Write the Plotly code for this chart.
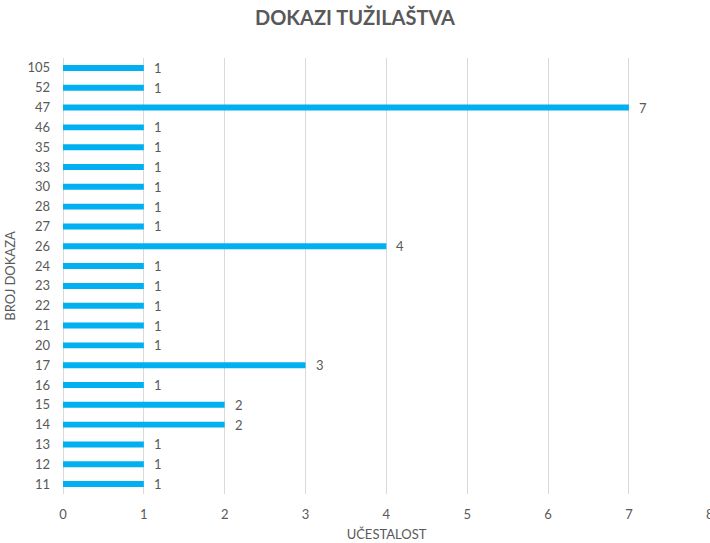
import plotly.graph_objects as go

categories = ["11", "12", "13", "14", "15", "16", "17", "20", "21", "22", "23", "24",
              "26", "27", "28", "30", "33", "35", "46", "47", "52", "105"]
values = [1, 1, 1, 2, 2, 1, 3, 1, 1, 1, 1, 1, 4, 1, 1, 1, 1, 1, 1, 7, 1, 1]
x_ticks = [0, 1, 2, 3, 4, 5, 6, 7, 8]

FONT = "Lato, 'Open Sans', sans-serif"
GREY = "#595959"

fig = go.Figure(go.Bar(
    y=categories, x=values, orientation="h",
    marker=dict(color="#00B0F0", line=dict(width=0)),
    width=0.3,
    cliponaxis=False,
))

# value labels: category axis position = index in the categories list
for i, v in enumerate(values):
    fig.add_annotation(x=v, y=i, text=str(v), showarrow=False, xanchor="left", yanchor="middle",
                       xshift=8, font=dict(family=FONT, size=13, color=GREY))

fig.update_layout(
    width=710, height=543,
    paper_bgcolor="white", plot_bgcolor="white",
    margin=dict(l=63, r=0, t=58, b=49),
    title=dict(text="<b>DOKAZI TUŽILAŠTVA</b>", x=0.5, xanchor="center", y=0.967, yanchor="middle",
               font=dict(family=FONT, size=20, color=GREY)),
    showlegend=False,
    font=dict(family=FONT, color=GREY, size=12),
)
fig.update_xaxes(
    range=[0, 8.003], tickvals=x_ticks, showgrid=True, gridcolor="#D9D9D9", gridwidth=1,
    zeroline=True, zerolinecolor="#D9D9D9", zerolinewidth=1, showline=False,
    tickfont=dict(family=FONT, size=13, color=GREY), ticks="", ticklabelstandoff=11,
    ticklabeloverflow="allow",
    automargin=False,
    title=dict(text="UČESTALOST", font=dict(family=FONT, size=13, color=GREY), standoff=8),
)
fig.update_yaxes(
    type="category", categoryorder="array", categoryarray=categories,
    range=[-0.5, len(categories) - 0.5], showgrid=False, showline=False, zeroline=False,
    tickfont=dict(family=FONT, size=13, color=GREY), ticks="", ticklabelstandoff=12,
    automargin=False,
    title=dict(text="BROJ DOKAZA", font=dict(family=FONT, size=13, color=GREY), standoff=8),
)

fig.write_html("out.html", config={"displayModeBar": False},
               post_script="document.body.style.margin='0';")
